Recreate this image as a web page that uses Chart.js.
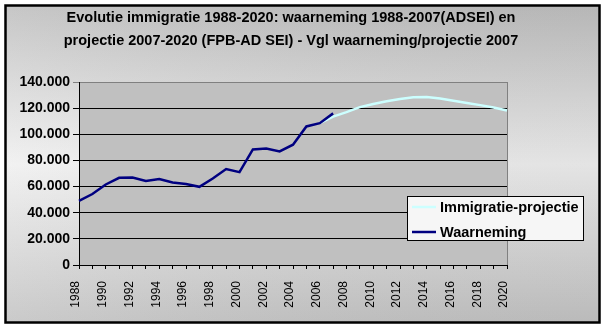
<!DOCTYPE html>
<html>
<head>
<meta charset="utf-8">
<script src="https://cdn.jsdelivr.net/npm/chart.js@4.4.1/dist/chart.umd.min.js"></script>
<style>
  html, body { margin: 0; padding: 0; background: #fff; }
  #wrap { width: 606px; height: 330px; }
</style>
</head>
<body>
<div id="wrap"><canvas id="chart"></canvas></div>
<script>
const years = ['1988', '1989', '1990', '1991', '1992', '1993', '1994', '1995', '1996', '1997',
  '1998', '1999', '2000', '2001', '2002', '2003', '2004', '2005', '2006', '2007',
  '2008', '2009', '2010', '2011', '2012', '2013', '2014', '2015', '2016', '2017',
  '2018', '2019', '2020'];

// waarneming 1988-2007
const waarneming = [49000, 54300, 61600, 66700, 67000, 64300, 65700, 63100, 62000, 59800,
  66200, 73400, 71000, 88400, 89100, 86900, 92000, 106000, 108500, 116000,
  null, null, null, null, null, null, null, null, null, null, null, null, null];

// projectie 2006-2020
const projectie = [null, null, null, null, null, null, null, null, null, null,
  null, null, null, null, null, null, null, null, 108500, 113500,
  116900, 120800, 123100, 125200, 127000, 128300, 128500, 127300, 125700, 123900,
  122300, 120500, 118200];

const titleLines = [
  'Evolutie immigratie 1988-2020: waarneming 1988-2007(ADSEI) en',
  'projectie 2007-2020 (FPB-AD SEI) - Vgl waarneming/projectie 2007'
];

const FONT = '"Liberation Sans", Arial, sans-serif';

// backgrounds, title, borders and the legend box
const decor = {
  id: 'decor',
  beforeDraw(chart) {
    const ctx = chart.ctx;
    const a = chart.chartArea;
    ctx.save();
    ctx.fillStyle = '#ffffff';
    ctx.fillRect(0, 0, chart.width, chart.height);
    let g = ctx.createLinearGradient(0, 5, 0, 323);
    g.addColorStop(0, '#c0c0c0');
    g.addColorStop(0.5, '#f0f0f0');
    g.addColorStop(1, '#c4c4c4');
    ctx.fillStyle = g;
    ctx.fillRect(5, 5, 595, 318);
    g = ctx.createLinearGradient(5, 0, 600, 0);
    g.addColorStop(0, 'rgba(255,255,255,0.1)');
    g.addColorStop(1, 'rgba(0,0,0,0.05)');
    ctx.fillStyle = g;
    ctx.fillRect(5, 5, 595, 318);
    ctx.fillStyle = '#c0c0c0';
    ctx.fillRect(a.left, a.top, a.right - a.left, a.bottom - a.top);
    ctx.strokeStyle = '#808080';
    ctx.lineWidth = 1;
    ctx.beginPath();
    ctx.moveTo(Math.round(a.right) + 0.5, a.top);
    ctx.lineTo(Math.round(a.right) + 0.5, a.bottom);
    ctx.stroke();
    // title
    ctx.fillStyle = '#000';
    ctx.font = 'bold 14.5px ' + FONT;
    ctx.textAlign = 'center';
    ctx.textBaseline = 'middle';
    titleLines.forEach((t, i) => ctx.fillText(t, 291, 18 + i * 23));
    ctx.restore();
  },
  afterDraw(chart) {
    const ctx = chart.ctx;
    ctx.save();
    // legend
    ctx.fillStyle = '#f6f6f6';
    ctx.fillRect(407, 196, 176, 44);
    ctx.strokeStyle = '#000';
    ctx.lineWidth = 1;
    ctx.strokeRect(407.5, 196.5, 176, 44);
    const items = [chart.data.datasets[1], chart.data.datasets[0]];
    items.forEach((ds, i) => {
      const y = 207 + i * 25;
      ctx.strokeStyle = ds.borderColor;
      ctx.lineWidth = 2.5;
      ctx.beginPath();
      ctx.moveTo(412, y);
      ctx.lineTo(436, y);
      ctx.stroke();
      ctx.fillStyle = '#000';
      ctx.font = 'bold 14.5px ' + FONT;
      ctx.textBaseline = 'middle';
      ctx.fillText(ds.label, 440, y + 1);
    });
    // outer border
    ctx.strokeStyle = '#000';
    ctx.strokeRect(5.5, 5.5, 594, 317);
    ctx.restore();
  }
};

new Chart(document.getElementById('chart'), {
  type: 'line',
  data: {
    labels: years,
    datasets: [
      {
        label: 'Waarneming',
        data: waarneming,
        borderColor: '#000080',
        borderWidth: 2.5,
        pointRadius: 0,
        tension: 0
      },
      {
        label: 'Immigratie-projectie',
        data: projectie,
        borderColor: '#ccffff',
        borderWidth: 2.5,
        pointRadius: 0,
        tension: 0
      }
    ]
  },
  options: {
    responsive: true,
    maintainAspectRatio: false,
    animation: false,
    layout: {
      padding: { top: 82, left: 0, right: 99, bottom: 0 }
    },
    plugins: {
      legend: { display: false },
      tooltip: { enabled: false },
      title: { display: false }
    },
    scales: {
      x: {
        grid: {
          drawOnChartArea: false,
          drawTicks: true,
          tickLength: 4,
          color: '#000'
        },
        border: { color: '#000', width: 1 },
        ticks: {
          autoSkip: false,
          maxRotation: 90,
          minRotation: 90,
          padding: 12,
          labelOffset: -3,
          color: '#000',
          font: { family: FONT, size: 12 },
          callback: function (v, i) {
            return i % 2 === 0 ? years[i] : '';
          }
        },
        afterFit: function (s) { s.height = 65; }
      },
      y: {
        min: 0,
        max: 140000,
        grid: {
          drawTicks: true,
          tickLength: 6,
          color: function (c) { return c.tick && c.tick.value === 140000 ? '#808080' : '#000'; }
        },
        border: { color: '#000', width: 1 },
        ticks: {
          stepSize: 20000,
          padding: 3,
          color: '#000',
          font: { family: FONT, size: 14, weight: 'bold' },
          callback: function (v) { return v.toLocaleString('de-DE'); }
        },
        afterFit: function (s) { s.width = 79; }
      }
    }
  },
  plugins: [decor]
});
</script>
</body>
</html>
